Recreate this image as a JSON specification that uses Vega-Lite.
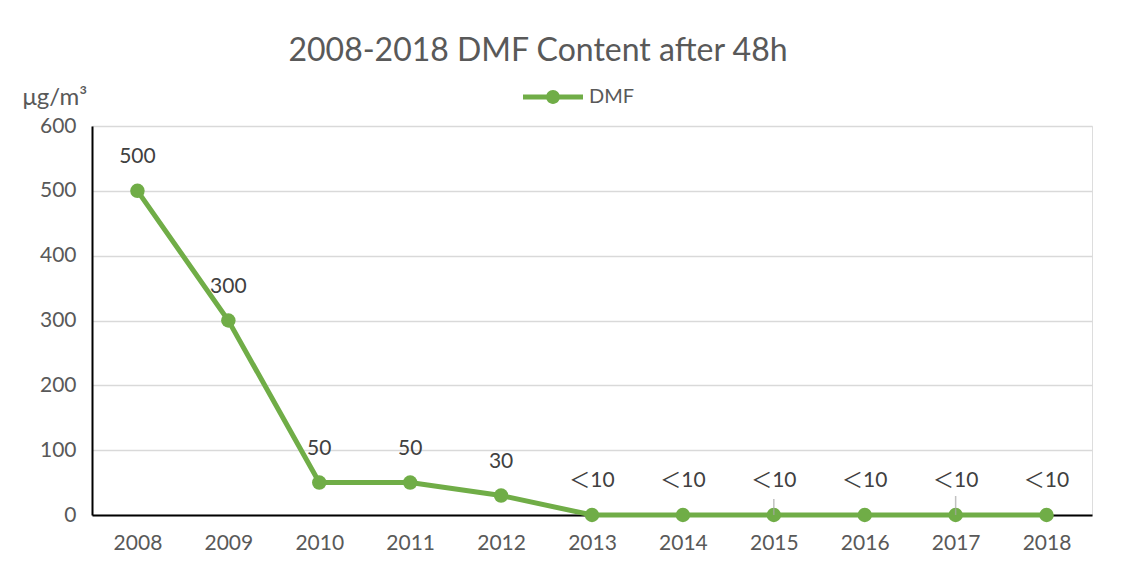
{
  "$schema": "https://vega.github.io/schema/vega-lite/v6.json",
  "autosize": "none",
  "width": 1000,
  "height": 389,
  "padding": {"left": 92, "top": 126, "right": 36, "bottom": 53},
  "background": "white",
  "title": {
    "text": "2008-2018 DMF Content after 48h",
    "font": "Lato",
    "fontSize": 32,
    "fontWeight": "normal",
    "color": "#595959",
    "anchor": "middle",
    "frame": "group",
    "dx": -54,
    "offset": -1
  },
  "data": {
    "values": [
      {"year": "2008", "value": 500, "label": "500", "series": "DMF"},
      {"year": "2009", "value": 300, "label": "300", "series": "DMF"},
      {"year": "2010", "value": 50, "label": "50", "series": "DMF"},
      {"year": "2011", "value": 50, "label": "50", "series": "DMF"},
      {"year": "2012", "value": 30, "label": "30", "series": "DMF"},
      {"year": "2013", "value": 0, "label": "＜10", "series": "DMF"},
      {"year": "2014", "value": 0, "label": "＜10", "series": "DMF"},
      {"year": "2015", "value": 0, "label": "＜10", "series": "DMF"},
      {"year": "2016", "value": 0, "label": "＜10", "series": "DMF"},
      {"year": "2017", "value": 0, "label": "＜10", "series": "DMF"},
      {"year": "2018", "value": 0, "label": "＜10", "series": "DMF"}
    ]
  },
  "encoding": {
    "x": {
      "field": "year",
      "type": "ordinal",
      "scale": {"type": "point", "padding": 0.5},
      "axis": {
        "title": null,
        "labelAngle": 0,
        "labelFont": "Lato",
        "labelFontSize": 21,
        "labelColor": "#595959",
        "labelPadding": 17,
        "ticks": false,
        "domainColor": "#000000",
        "domainWidth": 2,
        "grid": false
      }
    },
    "y": {
      "field": "value",
      "type": "quantitative",
      "scale": {"domain": [0, 600], "nice": false},
      "axis": {
        "values": [0, 100, 200, 300, 400, 500, 600],
        "title": "μg/m³",
        "titleAngle": 0,
        "titleAlign": "left",
        "titleBaseline": "alphabetic",
        "titleX": -70,
        "titleY": -22,
        "titleFont": "Lato",
        "titleFontSize": 24,
        "titleFontWeight": "normal",
        "titleColor": "#595959",
        "labelFont": "Lato",
        "labelFontSize": 21,
        "labelColor": "#595959",
        "labelPadding": 16,
        "ticks": false,
        "domainColor": "#000000",
        "domainWidth": 2,
        "gridColor": "#d9d9d9",
        "gridWidth": 1.5
      }
    }
  },
  "layer": [
    {
      "mark": {"type": "line", "strokeWidth": 5},
      "encoding": {
        "color": {
          "field": "series",
          "type": "nominal",
          "scale": {"domain": ["DMF"], "range": ["#70AD47"]},
          "legend": {
            "title": null,
            "orient": "none",
            "legendX": 431,
            "legendY": -59,
            "symbolType": "M-1,-0.08H1V0.08H-1Z M-0.23,0A0.23,0.23 0 1,1 0.23,0A0.23,0.23 0 1,1 -0.23,0Z",
            "symbolSize": 3600,
            "symbolFillColor": "#70AD47",
            "symbolStrokeWidth": 0,
            "labelFont": "Lato",
            "labelFontSize": 20,
            "labelColor": "#595959",
            "labelOffset": 6
          }
        }
      }
    },
    {
      "mark": {"type": "point", "filled": true, "size": 210, "opacity": 1, "color": "#70AD47"}
    },
    {
      "transform": [{"filter": "datum.year == '2015'"}],
      "mark": {"type": "tick", "orient": "vertical", "size": 16, "thickness": 1.5, "yOffset": -8, "color": "#a6a6a6"}
    },
    {
      "transform": [{"filter": "datum.year == '2017'"}],
      "mark": {"type": "tick", "orient": "vertical", "size": 19, "thickness": 1.5, "yOffset": -9.5, "color": "#a6a6a6"}
    },
    {
      "mark": {"type": "text", "dy": -34, "baseline": "middle", "font": "Lato, Noto Sans CJK SC", "fontSize": 21, "color": "#404040"},
      "encoding": {"text": {"field": "label"}}
    }
  ]
}
